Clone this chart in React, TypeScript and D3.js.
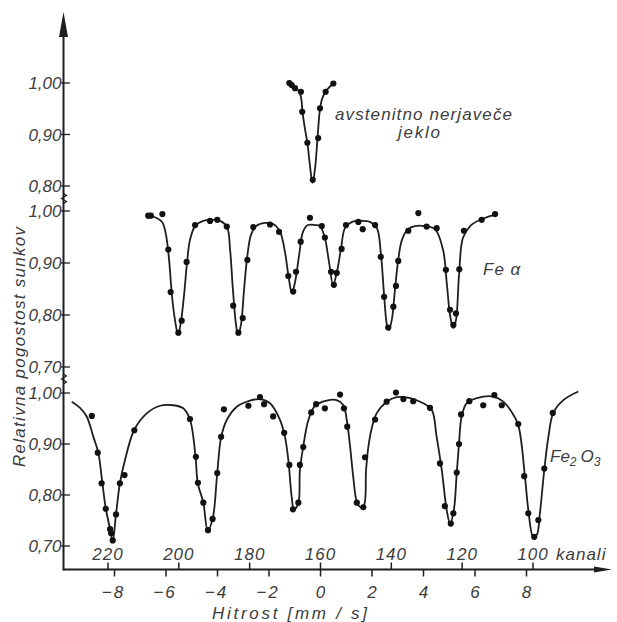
import React, { useRef, useEffect } from "react";
import * as d3 from "d3";

const W = 617;
const H = 622;

// axis ticks
const velocityTicks = [-8, -6, -4, -2, 0, 2, 4, 6, 8];
const channelTicks = [220, 200, 180, 160, 140, 120, 100];
const topTicks = [1.0, 0.9, 0.8];
const midTicks = [1.0, 0.9, 0.8, 0.7];
const botTicks = [1.0, 0.9, 0.8, 0.7];

// [velocity mm/s, relative count] - austenitic stainless steel
const austenitePoints = [
  [-1.21, 1.0], [-1.12, 0.996], [-0.99, 0.99], [-0.76, 0.983], [-0.71, 0.944],
  [-0.51, 0.884], [-0.3, 0.812], [-0.09, 0.893], [-0.02, 0.951], [0.2, 0.983], [0.5, 0.999],
];
const austeniteCurve = [
  [-1.3, 1.002], [-1.15, 0.996], [-0.99, 0.99], [-0.83, 0.984], [-0.74, 0.967],
  [-0.7, 0.944], [-0.6, 0.91], [-0.51, 0.884], [-0.41, 0.84], [-0.31, 0.806],
  [-0.21, 0.835], [-0.12, 0.89], [-0.03, 0.945], [0.06, 0.969], [0.21, 0.984], [0.49, 0.999],
];

// Fe alpha
const feAlphaPoints = [
  [-6.69, 0.991], [-6.59, 0.991], [-6.14, 0.994], [-5.91, 0.926], [-5.82, 0.844],
  [-5.52, 0.766], [-5.39, 0.789], [-5.2, 0.902], [-4.87, 0.973], [-4.29, 0.981],
  [-4.01, 0.983], [-3.64, 0.97], [-3.39, 0.818], [-3.19, 0.766], [-3.02, 0.794],
  [-2.84, 0.906], [-2.61, 0.969], [-1.96, 0.974], [-1.61, 0.96], [-1.25, 0.875],
  [-1.06, 0.845], [-0.95, 0.883], [-0.77, 0.941], [-0.41, 0.987], [0.05, 0.971],
  [0.17, 0.949], [0.41, 0.883], [0.52, 0.858], [0.63, 0.881], [0.82, 0.927],
  [0.99, 0.973], [1.47, 0.979], [1.64, 0.965], [2.12, 0.973], [2.34, 0.912],
  [2.47, 0.835], [2.63, 0.776], [2.83, 0.816], [2.93, 0.856], [3.02, 0.904],
  [3.41, 0.962], [3.8, 0.996], [4.12, 0.97], [4.51, 0.967], [4.87, 0.887],
  [5.03, 0.81], [5.16, 0.781], [5.26, 0.803], [5.39, 0.888], [5.57, 0.962],
  [6.26, 0.983], [6.78, 0.994],
];
const feAlphaCurve = [
  [-6.7, 0.991], [-6.43, 0.988], [-6.15, 0.979], [-6.0, 0.954], [-5.88, 0.906],
  [-5.77, 0.838], [-5.65, 0.79], [-5.53, 0.762], [-5.42, 0.787], [-5.3, 0.838],
  [-5.18, 0.902], [-5.07, 0.944], [-4.87, 0.971], [-4.56, 0.981], [-4.21, 0.983],
  [-3.9, 0.981], [-3.63, 0.969], [-3.51, 0.925], [-3.4, 0.848], [-3.28, 0.781],
  [-3.2, 0.762], [-3.09, 0.781], [-2.97, 0.848], [-2.85, 0.91], [-2.7, 0.954],
  [-2.5, 0.971], [-2.16, 0.977], [-1.84, 0.975], [-1.57, 0.96], [-1.38, 0.921],
  [-1.22, 0.867], [-1.11, 0.842], [-0.99, 0.863], [-0.83, 0.915], [-0.68, 0.96],
  [-0.49, 0.973], [-0.21, 0.973], [-0.02, 0.971], [0.17, 0.948], [0.33, 0.902],
  [0.49, 0.858], [0.64, 0.883], [0.8, 0.929], [0.95, 0.967], [1.22, 0.979],
  [1.53, 0.981], [1.92, 0.979], [2.19, 0.967], [2.35, 0.915], [2.47, 0.838],
  [2.58, 0.781], [2.66, 0.771], [2.78, 0.794], [2.89, 0.848], [3.01, 0.902],
  [3.16, 0.944], [3.4, 0.965], [3.67, 0.971], [4.06, 0.971], [4.45, 0.965],
  [4.76, 0.925], [4.91, 0.858], [5.03, 0.8], [5.15, 0.775], [5.26, 0.79],
  [5.38, 0.877], [5.53, 0.948], [5.81, 0.971], [6.19, 0.983], [6.58, 0.99], [6.85, 0.994],
];

// Fe2O3
const fe2o3Points = [
  [-8.88, 0.955], [-8.65, 0.883], [-8.5, 0.823], [-8.34, 0.773], [-8.17, 0.733],
  [-8.13, 0.725], [-8.07, 0.711], [-7.94, 0.762], [-7.79, 0.823], [-7.61, 0.839],
  [-7.23, 0.927], [-5.07, 0.949], [-4.84, 0.875], [-4.76, 0.824], [-4.55, 0.785],
  [-4.37, 0.731], [-4.19, 0.753], [-4.01, 0.843], [-3.86, 0.914], [-3.75, 0.968],
  [-2.8, 0.975], [-2.35, 0.992], [-2.19, 0.978], [-1.84, 0.954], [-1.41, 0.922],
  [-1.21, 0.859], [-1.07, 0.772], [-0.86, 0.785], [-0.8, 0.859], [-0.67, 0.894],
  [-0.36, 0.962], [-0.17, 0.978], [0.17, 0.97], [0.76, 0.997], [0.91, 0.97],
  [1.04, 0.934], [1.41, 0.785], [1.66, 0.776], [1.73, 0.874], [2.12, 0.948],
  [2.57, 0.983], [2.93, 1.001], [3.22, 0.988], [3.6, 0.984], [4.25, 0.971],
  [4.64, 0.862], [4.83, 0.778], [5.06, 0.744], [5.16, 0.764], [5.29, 0.844],
  [5.38, 0.9], [5.46, 0.958], [5.78, 0.984], [6.32, 0.976], [6.75, 0.996],
  [7.04, 0.976], [7.68, 0.939], [7.91, 0.837], [8.07, 0.764], [8.3, 0.718],
  [8.46, 0.751], [8.69, 0.852], [9.02, 0.961],
];
const fe2o3Curve = [
  [-9.66, 0.983], [-9.34, 0.971], [-9.08, 0.954], [-8.82, 0.914], [-8.63, 0.883],
  [-8.47, 0.823], [-8.34, 0.774], [-8.17, 0.733], [-8.07, 0.71], [-7.94, 0.763],
  [-7.79, 0.823], [-7.59, 0.869], [-7.24, 0.927], [-6.75, 0.96], [-6.23, 0.975],
  [-5.72, 0.976], [-5.33, 0.97], [-5.07, 0.948], [-4.85, 0.874], [-4.77, 0.824],
  [-4.55, 0.785], [-4.38, 0.731], [-4.19, 0.753], [-4.01, 0.843], [-3.86, 0.913],
  [-3.64, 0.947], [-3.25, 0.973], [-2.74, 0.985], [-2.35, 0.988], [-1.96, 0.98],
  [-1.57, 0.947], [-1.38, 0.914], [-1.25, 0.869], [-1.12, 0.797], [-1.03, 0.771],
  [-0.86, 0.784], [-0.8, 0.849], [-0.67, 0.895], [-0.47, 0.947], [-0.21, 0.975],
  [0.24, 0.985], [0.63, 0.986], [0.89, 0.976], [1.02, 0.947], [1.15, 0.895],
  [1.27, 0.836], [1.41, 0.787], [1.56, 0.776], [1.69, 0.78], [1.77, 0.849],
  [1.86, 0.895], [1.99, 0.931], [2.18, 0.96], [2.57, 0.983], [2.96, 0.992],
  [3.48, 0.99], [3.99, 0.98], [4.32, 0.967], [4.51, 0.914], [4.71, 0.849],
  [4.9, 0.771], [5.03, 0.744], [5.18, 0.771], [5.29, 0.843], [5.38, 0.901],
  [5.48, 0.954], [5.68, 0.98], [6.07, 0.99], [6.71, 0.993], [7.1, 0.983],
  [7.42, 0.963], [7.68, 0.937], [7.94, 0.836], [8.07, 0.771], [8.26, 0.718],
  [8.4, 0.722], [8.52, 0.764], [8.69, 0.849], [8.85, 0.914], [9.04, 0.961],
  [9.43, 0.986], [10.01, 1.003],
];

const INK = "#1e1e1e";
const TXT = "#3c3c3c";
const FONT = "'Liberation Sans', Arial, sans-serif";

function MossbauerChart() {
  const svgRef = useRef(null);

  useEffect(() => {
    const svg = d3.select(svgRef.current);
    svg.selectAll("*").remove();

    const axisX = 63.5;
    const axisY = 569.5;

    const x = d3.scaleLinear().domain([-8, 8]).range([114.5, 526.5]);
    const ch = d3.scaleLinear().domain([220, 100]).range([108, 533]);
    const yTop = d3.scaleLinear().domain([0.8, 1.0]).range([186, 83]);
    const yMid = d3.scaleLinear().domain([0.7, 1.0]).range([367, 211]);
    const yBot = d3.scaleLinear().domain([0.7, 1.0]).range([546, 393]);

    const panels = [
      { y: yTop, ticks: topTicks, pts: austenitePoints, curve: austeniteCurve },
      { y: yMid, ticks: midTicks, pts: feAlphaPoints, curve: feAlphaCurve },
      { y: yBot, ticks: botTicks, pts: fe2o3Points, curve: fe2o3Curve },
    ];

    const fmtY = (d) => d3.format(".2f")(d).replace(".", ",");

    svg.append("rect").attr("width", W).attr("height", H).attr("fill", "#fff");

    // axes
    svg.append("line")
      .attr("x1", axisX).attr("x2", axisX).attr("y1", axisY + 1).attr("y2", 36)
      .attr("stroke", INK).attr("stroke-width", 2);
    svg.append("path")
      .attr("d", `M${axisX - 4.5},37 L${axisX + 4.5},37 L${axisX},12 Z`)
      .attr("fill", INK);
    svg.append("line")
      .attr("x1", axisX).attr("x2", 596).attr("y1", axisY).attr("y2", axisY)
      .attr("stroke", INK).attr("stroke-width", 2);
    svg.append("path")
      .attr("d", `M594,${axisY - 3} L612,${axisY} L594,${axisY + 3} Z`)
      .attr("fill", INK);

    // velocity ticks (below)
    const vt = svg.append("g");
    vt.selectAll("line").data(velocityTicks).enter().append("line")
      .attr("x1", (d) => x(d)).attr("x2", (d) => x(d))
      .attr("y1", axisY).attr("y2", axisY + 7)
      .attr("stroke", INK).attr("stroke-width", 1.5);
    vt.selectAll("text").data(velocityTicks).enter().append("text")
      .attr("x", (d) => x(d) + (d < 0 ? -1 : 0)).attr("y", 598)
      .attr("text-anchor", "middle")
      .attr("letter-spacing", (d) => (d < 0 ? 2 : 0))
      .text((d) => (d < 0 ? "\u2212" + Math.abs(d) : String(d)));

    // channel ticks (above)
    const ct = svg.append("g");
    ct.selectAll("line").data(channelTicks).enter().append("line")
      .attr("x1", (d) => ch(d)).attr("x2", (d) => ch(d))
      .attr("y1", axisY - 7).attr("y2", axisY)
      .attr("stroke", INK).attr("stroke-width", 1.5);
    ct.selectAll("text").data(channelTicks).enter().append("text")
      .attr("x", (d) => ch(d)).attr("y", 560)
      .attr("text-anchor", "middle").attr("letter-spacing", 1)
      .text((d) => String(d));
    svg.append("text").attr("x", ch(100) + 23).attr("y", 560)
      .attr("letter-spacing", 1).text("kanali");

    // y ticks for the three panels
    panels.forEach((p) => {
      const g = svg.append("g");
      g.selectAll("line").data(p.ticks).enter().append("line")
        .attr("x1", axisX - 2.5).attr("x2", axisX + 6.5)
        .attr("y1", (d) => p.y(d)).attr("y2", (d) => p.y(d))
        .attr("stroke", INK).attr("stroke-width", 1.3);
      g.selectAll("text").data(p.ticks).enter().append("text")
        .attr("x", axisX - 2).attr("y", (d) => p.y(d))
        .attr("dy", "0.36em").attr("text-anchor", "end")
        .text(fmtY);
    });

    // axis breaks
    const breakAt = (yc) => {
      svg.append("path")
        .attr("d", `M${axisX},${yc - 6} l3,2 l-5,3 l5,3 l-3,2`)
        .attr("fill", "none").attr("stroke", INK).attr("stroke-width", 1.2);
    };
    breakAt((yTop(0.8) + yMid(1.0)) / 2 + 1);
    breakAt((yMid(0.7) + yBot(1.0)) / 2);

    // spectra
    panels.forEach((p) => {
      const line = d3.line()
        .x((d) => x(d[0]))
        .y((d) => p.y(d[1]))
        .curve(d3.curveCatmullRom.alpha(0.5));
      svg.append("path").datum(p.curve)
        .attr("d", line).attr("fill", "none")
        .attr("stroke", INK).attr("stroke-width", 1.8);
      svg.append("g").selectAll("circle").data(p.pts).enter().append("circle")
        .attr("cx", (d) => x(d[0])).attr("cy", (d) => p.y(d[1]))
        .attr("r", 3.1).attr("fill", "#111");
    });

    // labels
    svg.append("text").attr("x", 335).attr("y", 120)
      .attr("textLength", 177).attr("lengthAdjust", "spacing")
      .text("avstenitno nerjaveče");
    svg.append("text").attr("x", 398).attr("y", 138)
      .attr("textLength", 42).attr("lengthAdjust", "spacing")
      .text("jeklo");
    svg.append("text").attr("x", 483).attr("y", 275)
      .attr("letter-spacing", 1).text("Fe  α");

    const feo = svg.append("text").attr("x", 550).attr("y", 462);
    feo.append("tspan").text("Fe");
    feo.append("tspan").attr("dy", 4).attr("font-size", 12).text("2");
    feo.append("tspan").attr("dx", 4).attr("dy", -4).text("O");
    feo.append("tspan").attr("dy", 4).attr("font-size", 12).text("3");

    svg.append("text").attr("x", 212).attr("y", 619)
      .attr("textLength", 155).attr("lengthAdjust", "spacing")
      .text("Hitrost  [mm / s]");

    svg.append("text")
      .attr("transform", "translate(25,467) rotate(-90)")
      .attr("textLength", 240).attr("lengthAdjust", "spacing")
      .text("Relativna pogostost sunkov");

    svg.selectAll("text")
      .attr("font-family", FONT)
      .attr("font-style", "italic")
      .attr("font-size", function () {
        return d3.select(this).attr("font-size") || 17;
      })
      .attr("fill", TXT);
  }, []);

  return (
    <svg
      ref={svgRef}
      width={W}
      height={H}
      style={{ position: "absolute", left: 0, top: 0, background: "#fff" }}
    ></svg>
  );
}

export default function App() {
  return <MossbauerChart />;
}
